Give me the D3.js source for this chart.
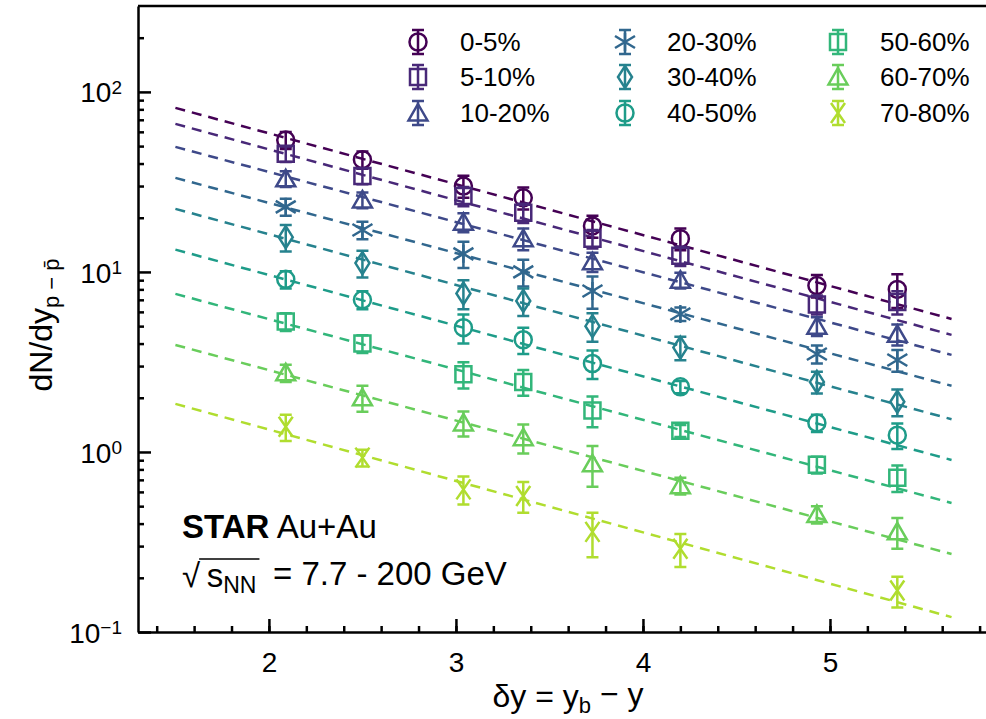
<!DOCTYPE html>
<html>
<head>
    <style>
        body { margin: 0; background: #fff; }
        svg { font-family: "Liberation Sans", Arial, Helvetica, sans-serif; }
        .axis path, .axis line { stroke: #000; stroke-width: 2.5; }
        .axis text { font-size: 28px; fill: #000; }
        .legend text { font-size: 26px; }
    </style>
    <script src="https://d3js.org/d3.v7.min.js"></script>
</head>
<body>
    <svg width="986" height="719"></svg>
    <script>
        // centrality classes and marker shape for each
        var categories = ["0-5%", "5-10%", "10-20%", "20-30%", "30-40%", "40-50%", "50-60%", "60-70%", "70-80%"];
        var shapes = ["circle", "square", "triangle", "asterisk", "diamond", "circle", "square", "triangle", "cross"];

        // beam rapidity for 7.7, 11.5, 19.6, 27, 39, 62.4, 130, 200 GeV
        var deltaY = [2.09, 2.50, 3.04, 3.36, 3.73, 4.20, 4.93, 5.36];

        // dN/dy of net protons, one array per centrality, with errors
        var c0_5   = [54.0, 42.0, 30.0, 25.8, 18.0, 15.3, 8.4, 8.0];
        var e0_5   = [5.9, 4.6, 4.2, 3.6, 2.5, 2.1, 1.2, 1.7];
        var c5_10  = [45.3, 34.1, 26.4, 21.3, 15.3, 12.3, 6.6, 6.8];
        var e5_10  = [4.5, 3.4, 3.2, 2.6, 1.8, 1.5, 0.8, 1.0];
        var c10_20 = [32.9, 25.1, 18.9, 15.3, 11.4, 9.0, 5.0, 4.5];
        var e10_20 = [3.3, 2.5, 2.3, 2.1, 1.4, 0.9, 0.6, 0.6];
        var c20_30 = [23.0, 17.1, 12.6, 10.0, 7.84, 5.84, 3.5, 3.24];
        var e20_30 = [2.5, 1.9, 2.1, 1.7, 1.6, 0.5, 0.4, 0.45];
        var c30_40 = [15.6, 11.2, 7.6, 6.9, 5.0, 3.8, 2.45, 1.9];
        var e30_40 = [2.6, 1.9, 1.4, 1.2, 0.9, 0.57, 0.34, 0.32];
        var c40_50 = [9.1, 7.0, 4.9, 4.2, 3.1, 2.3, 1.45, 1.24];
        var e40_50 = [1.0, 0.8, 0.9, 0.7, 0.56, 0.18, 0.16, 0.2];
        var c50_60 = [5.3, 4.0, 2.7, 2.45, 1.7, 1.31, 0.85, 0.72];
        var e50_60 = [0.6, 0.45, 0.45, 0.4, 0.33, 0.1, 0.09, 0.12];
        var c60_70 = [2.75, 2.0, 1.45, 1.2, 0.86, 0.65, 0.45, 0.36];
        var e60_70 = [0.3, 0.33, 0.23, 0.22, 0.22, 0.07, 0.05, 0.07];
        var c70_80 = [1.38, 0.93, 0.62, 0.57, 0.36, 0.29, null, 0.17];
        var e70_80 = [0.23, 0.1, 0.11, 0.11, 0.1, 0.06, null, 0.033];

        // exponential fits: value at start and end of the dashed line
        var fitRange = [1.5, 5.65];
        var fitStart = [81.5, 66.4, 49.5, 33.3, 22.4, 13.3, 7.55, 3.93, 1.85];
        var fitEnd   = [5.48, 4.47, 3.46, 2.33, 1.52, 0.903, 0.521, 0.271, 0.121];

        // axis ticks
        var xTicks = [2, 3, 4, 5];
        var yTicks = [0.1, 1, 10, 100];
        var yTickExp = ["\u22121", "0", "1", "2"];

        var values = [c0_5, c5_10, c10_20, c20_30, c30_40, c40_50, c50_60, c60_70, c70_80];
        var errors = [e0_5, e5_10, e10_20, e20_30, e30_40, e40_50, e50_60, e60_70, e70_80];

        var series = categories.map(function(c, i) {
            var pts = [];
            deltaY.forEach(function(dy, j) {
                if (values[i][j] != null) pts.push({ x: dy, v: values[i][j], e: errors[i][j] });
            });
            return { name: c, shape: shapes[i], points: pts,
                     fit: [{ x: fitRange[0], v: fitStart[i] }, { x: fitRange[1], v: fitEnd[i] }] };
        });

        var svg = d3.select("svg");
        var x = d3.scaleLinear().domain([1.3, 6.0]).range([138, 1017]);
        var y = d3.scaleLog().domain([0.1, 300]).range([632, 6]);
        var color = d3.scaleOrdinal().domain(categories)
            .range(categories.map(function(d, i) { return d3.interpolateViridis(i * 0.11); }));

        var symbols = {
            circle: "M8.5,0A8.5,8.5 0 1,1 -8.5,0A8.5,8.5 0 1,1 8.5,0Z",
            square: "M-8,-8H8V8H-8Z",
            triangle: "M0,-9L9.5,7.5H-9.5Z",
            diamond: "M0,-11L7,0L0,11L-7,0Z",
            asterisk: "M-10,-6L10,6M-10,6L10,-6M0,-9V9",
            cross: "M-7,-10L7,10M-7,10L7,-10"
        };

        // axes
        svg.append("g").attr("class", "axis").attr("transform", "translate(0,632)")
            .call(d3.axisBottom(x).tickValues(xTicks).tickFormat(d3.format("d"))
                .tickSizeInner(-13).tickSizeOuter(0).tickPadding(20));
        svg.append("g").attr("class", "axis").attr("transform", "translate(0,632)")
            .call(d3.axisBottom(x).tickValues(d3.range(1.4, 6.0, 0.2)).tickSizeInner(-6).tickSizeOuter(0).tickFormat(""))
            .select(".domain").remove();

        var yAxis = svg.append("g").attr("class", "axis").attr("transform", "translate(138,0)")
            .call(d3.axisLeft(y).tickValues(yTicks).tickSizeInner(-13).tickSizeOuter(0).tickFormat(""));
        var yMinor = [];
        yTicks.forEach(function(b) {
            for (var k = 2; k <= 9; k++) if (b * k < 300) yMinor.push(b * k);
        });
        svg.append("g").attr("class", "axis").attr("transform", "translate(138,0)")
            .call(d3.axisLeft(y).tickValues(yMinor).tickSizeInner(-6).tickSizeOuter(0).tickFormat(""))
            .select(".domain").remove();

        yAxis.selectAll(".tick").append("text")
            .attr("x", -16).attr("dy", "0.36em").attr("text-anchor", "end")
            .each(function(d, i) {
                var t = d3.select(this);
                t.append("tspan").text("10");
                t.append("tspan").attr("dy", "-0.45em").attr("font-size", "19px").text(yTickExp[i]);
            });

        // top frame line
        svg.append("line").attr("x1", 138).attr("x2", 986).attr("y1", 6).attr("y2", 6)
            .attr("stroke", "#000").attr("stroke-width", 2.5);

        // fit lines
        var line = d3.line().x(function(d) { return x(d.x); }).y(function(d) { return y(d.v); });
        svg.append("g").selectAll("path").data(series).enter().append("path")
            .attr("d", function(d) { return line(d.fit); })
            .attr("fill", "none").attr("stroke", function(d) { return color(d.name); })
            .attr("stroke-width", 2.5).attr("stroke-dasharray", "10,7");

        // error bars and markers
        var sg = svg.append("g").selectAll("g").data(series).enter().append("g")
            .attr("stroke", function(d) { return color(d.name); })
            .attr("stroke-width", 2.5).attr("fill", "none");
        var pt = sg.selectAll("g").data(function(d) { return d.points.map(function(p) { p.shape = d.shape; return p; }); })
            .enter().append("g")
            .attr("transform", function(d) { return "translate(" + x(d.x) + "," + y(d.v) + ")"; });
        pt.append("path").attr("d", function(d) {
            var top = y(d.v + d.e) - y(d.v), bot = y(d.v - d.e) - y(d.v);
            return "M0," + top + "V" + bot + "M-6," + top + "H6M-6," + bot + "H6";
        });
        pt.append("path").attr("d", function(d) { return symbols[d.shape]; });

        // legend
        var legX = [418, 625, 838], legY = [42, 77, 113];
        var leg = svg.append("g").attr("class", "legend").selectAll("g").data(series).enter().append("g")
            .attr("transform", function(d, i) { return "translate(" + legX[Math.floor(i / 3)] + "," + legY[i % 3] + ")"; });
        leg.append("path").attr("d", "M0,-12V12M-6,-12H6M-6,12H6")
            .attr("stroke", function(d) { return color(d.name); }).attr("stroke-width", 2.5);
        leg.append("path").attr("d", function(d) { return symbols[d.shape]; })
            .attr("fill", "none").attr("stroke", function(d) { return color(d.name); }).attr("stroke-width", 2.5);
        leg.append("text").attr("x", 42).attr("dy", "0.36em").text(function(d) { return d.name; });

        // axis titles
        var xt = svg.append("text").attr("x", 568).attr("y", 707).attr("text-anchor", "middle").attr("font-size", "32px");
        xt.append("tspan").text("\u03b4y = y");
        xt.append("tspan").attr("dy", "0.25em").attr("font-size", "22px").text("b");
        xt.append("tspan").attr("dy", "-0.25em").text(" \u2212 y");

        var yt = svg.append("text").attr("transform", "translate(52,325) rotate(-90)")
            .attr("text-anchor", "middle").attr("font-size", "32px");
        yt.append("tspan").text("dN/dy");
        yt.append("tspan").attr("dy", "0.3em").attr("font-size", "22px").text("p \u2212 p\u0304");

        // annotation
        var a1 = svg.append("text").attr("x", 182).attr("y", 538).attr("font-size", "33px");
        a1.append("tspan").attr("font-weight", "bold").text("STAR");
        a1.append("tspan").text(" Au+Au");
        var a2 = svg.append("text").attr("x", 182).attr("y", 587).attr("font-size", "33px");
        a2.append("tspan").text("\u221a\u2009s");
        a2.append("tspan").attr("dy", "0.25em").attr("font-size", "23px").text("NN");
        a2.append("tspan").attr("dy", "-0.25em").text("\u2002= 7.7 - 200 GeV");
        var n = a2.node(), r0 = n.getExtentOfChar(0), r3 = n.getExtentOfChar(4);
        svg.append("line").attr("x1", r0.x + r0.width - 1).attr("x2", r3.x + r3.width + 3)
            .attr("y1", r0.y + 2).attr("y2", r0.y + 2)
            .attr("stroke", "#000").attr("stroke-width", 1.5);
    </script>
</body>
</html>
